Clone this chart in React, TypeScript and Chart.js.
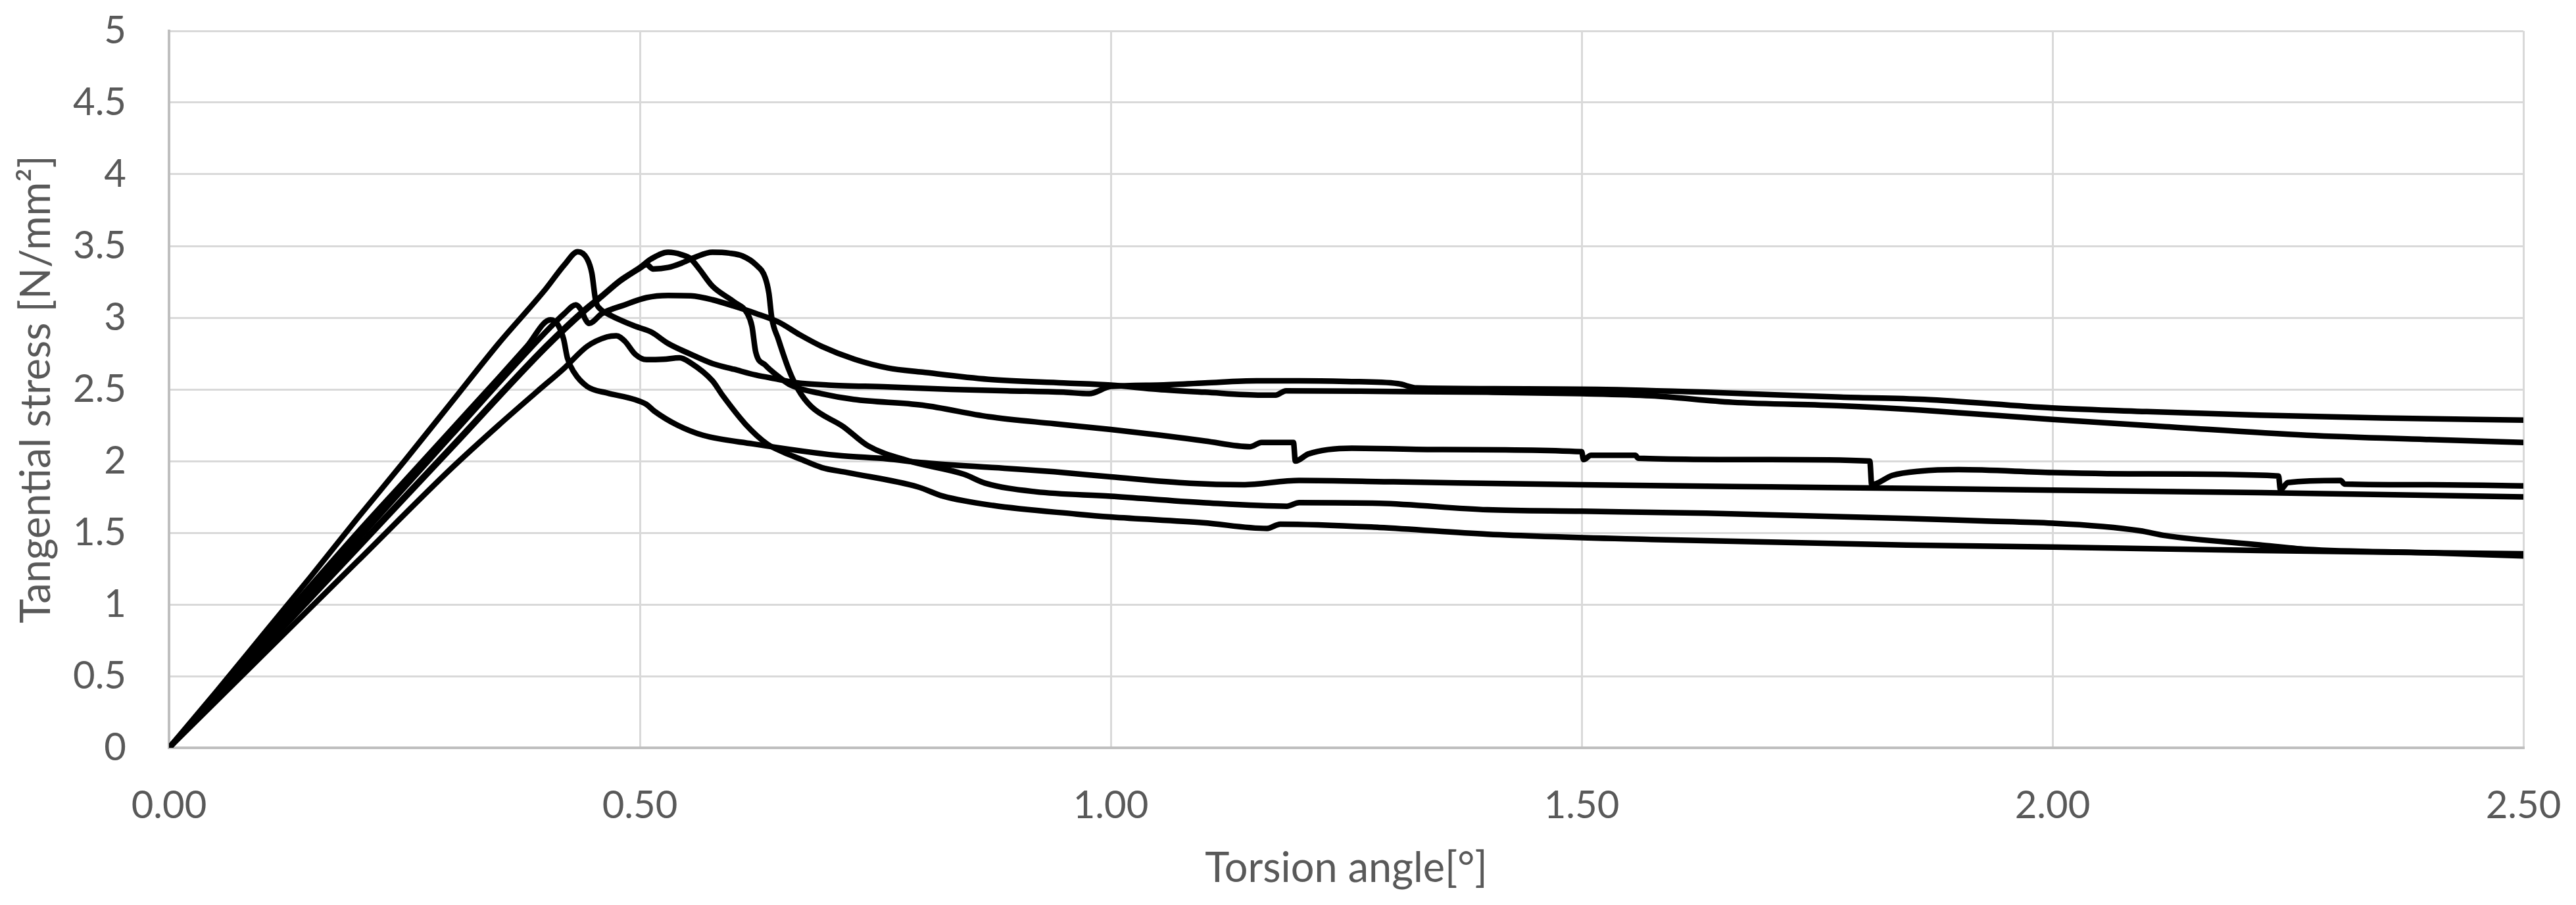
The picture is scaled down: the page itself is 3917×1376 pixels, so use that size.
import React, { useEffect, useRef } from 'react';
import { Chart, registerables } from 'chart.js';

Chart.register(...registerables);

// ---- Tick labels ----
const xTickLabels = ['0.00', '0.50', '1.00', '1.50', '2.00', '2.50'];
const yTickLabels = ['0', '0.5', '1', '1.5', '2', '2.5', '3', '3.5', '4', '4.5', '5'];

// ---- Series (torsion angle [°] -> tangential stress [N/mm²]) ----
// Specimen 1: sharp peak ~3.46 at 0.43
const s1X = [0, 0.05, 0.1, 0.15, 0.2, 0.25, 0.3, 0.35, 0.4, 0.42, 0.434, 0.444, 0.449, 0.453, 0.458, 0.465, 0.477, 0.495, 0.512, 0.53, 0.554, 0.577, 0.6, 0.623, 0.647, 0.665, 0.7, 0.763, 0.83, 0.89, 0.95, 0.977, 1.0, 1.05, 1.1, 1.155, 1.2, 1.25, 1.305, 1.325, 1.4, 1.516, 1.632, 1.775, 1.864, 2.0, 2.1, 2.22, 2.35, 2.5];
const s1Y = [0, 0.39, 0.79, 1.19, 1.6, 2.0, 2.41, 2.82, 3.2, 3.37, 3.46, 3.41, 3.31, 3.12, 3.06, 3.03, 2.99, 2.94, 2.9, 2.82, 2.745, 2.68, 2.64, 2.6, 2.57, 2.547, 2.53, 2.517, 2.5, 2.49, 2.48, 2.47, 2.52, 2.53, 2.545, 2.56, 2.56, 2.555, 2.54, 2.51, 2.505, 2.5, 2.48, 2.446, 2.43, 2.37, 2.345, 2.32, 2.3, 2.286];

// Specimen 2: small peak 3.09 at 0.43, dip, rounded top 3.15
const s2X = [0, 0.1, 0.2, 0.3, 0.4, 0.42, 0.432, 0.438, 0.442, 0.446, 0.46, 0.484, 0.507, 0.53, 0.554, 0.577, 0.6, 0.623, 0.647, 0.67, 0.693, 0.728, 0.763, 0.8, 0.87, 0.95, 1.0, 1.05, 1.1, 1.16, 1.175, 1.186, 1.3, 1.4, 1.5, 1.574, 1.66, 1.775, 1.86, 2.0, 2.12, 2.27, 2.4, 2.5];
const s2Y = [0, 0.72, 1.45, 2.18, 2.9, 3.03, 3.09, 3.05, 2.99, 2.96, 3.03, 3.09, 3.14, 3.155, 3.152, 3.125, 3.08, 3.03, 2.97, 2.88, 2.8, 2.71, 2.65, 2.62, 2.57, 2.545, 2.53, 2.5, 2.48, 2.46, 2.46, 2.49, 2.485, 2.48, 2.47, 2.455, 2.41, 2.385, 2.355, 2.29, 2.24, 2.18, 2.15, 2.13];

// Specimen 3: peak 3.46 at 0.53, stepped softening branch
const s3X = [0, 0.1, 0.2, 0.3, 0.4, 0.442, 0.46, 0.479, 0.5, 0.512, 0.53, 0.544, 0.554, 0.563, 0.577, 0.6, 0.614, 0.619, 0.623, 0.633, 0.647, 0.66, 0.693, 0.727, 0.8, 0.87, 0.94, 1.0, 1.053, 1.1, 1.148, 1.16, 1.194, 1.196, 1.21, 1.256, 1.35, 1.5, 1.502, 1.51, 1.557, 1.56, 1.7, 1.806, 1.808, 1.83, 1.86, 1.9, 2.0, 2.1, 2.24, 2.242, 2.25, 2.306, 2.31, 2.4, 2.5];
const s3Y = [0, 0.7, 1.4, 2.1, 2.8, 3.06, 3.155, 3.26, 3.35, 3.41, 3.456, 3.44, 3.41, 3.34, 3.22, 3.11, 3.03, 2.94, 2.76, 2.67, 2.59, 2.53, 2.47, 2.43, 2.39, 2.31, 2.26, 2.22, 2.18, 2.14, 2.1, 2.13, 2.13, 2.0, 2.05, 2.09, 2.08, 2.065, 2.01, 2.04, 2.04, 2.02, 2.01, 2.0, 1.835, 1.9, 1.93, 1.94, 1.92, 1.91, 1.896, 1.8, 1.85, 1.865, 1.84, 1.835, 1.827];

// Specimen 4: flat top 3.45 at 0.58-0.60, steep drop
const s4X = [0, 0.1, 0.2, 0.3, 0.4, 0.442, 0.46, 0.479, 0.5, 0.507, 0.514, 0.53, 0.544, 0.558, 0.577, 0.595, 0.609, 0.623, 0.633, 0.637, 0.64, 0.647, 0.658, 0.668, 0.682, 0.716, 0.742, 0.786, 0.844, 0.866, 0.92, 1.0, 1.098, 1.187, 1.2, 1.285, 1.4, 1.5, 1.632, 1.845, 1.925, 2.0, 2.053, 2.093, 2.12, 2.22, 2.27, 2.4, 2.5];
const s4Y = [0, 0.69, 1.39, 2.09, 2.79, 3.05, 3.15, 3.255, 3.345, 3.37, 3.34, 3.35, 3.38, 3.42, 3.456, 3.45, 3.43, 3.37, 3.28, 3.17, 3.0, 2.85, 2.64, 2.5, 2.38, 2.24, 2.107, 2.0, 1.908, 1.847, 1.786, 1.755, 1.71, 1.685, 1.71, 1.705, 1.66, 1.65, 1.636, 1.6, 1.583, 1.567, 1.544, 1.514, 1.48, 1.415, 1.384, 1.36, 1.338];

// Specimen 5: peak 2.99 at 0.405
const s5X = [0, 0.1, 0.2, 0.25, 0.3, 0.35, 0.38, 0.405, 0.413, 0.419, 0.423, 0.43, 0.444, 0.465, 0.494, 0.507, 0.515, 0.54, 0.567, 0.62, 0.709, 0.763, 0.798, 0.887, 0.94, 1.0, 1.084, 1.14, 1.2, 1.3, 1.5, 1.7, 1.845, 2.0, 2.22, 2.5];
const s5Y = [0, 0.75, 1.5, 1.86, 2.22, 2.58, 2.8, 2.985, 2.95, 2.85, 2.72, 2.62, 2.52, 2.475, 2.43, 2.395, 2.35, 2.25, 2.18, 2.12, 2.04, 2.015, 1.99, 1.95, 1.925, 1.89, 1.845, 1.835, 1.865, 1.855, 1.835, 1.82, 1.81, 1.797, 1.78, 1.75];

// Specimen 6: low hump 2.87 at 0.47
const s6X = [0, 0.1, 0.2, 0.3, 0.35, 0.39, 0.42, 0.444, 0.465, 0.475, 0.484, 0.495, 0.507, 0.525, 0.542, 0.554, 0.577, 0.588, 0.612, 0.635, 0.653, 0.67, 0.693, 0.72, 0.795, 0.822, 0.875, 0.964, 1.0, 1.098, 1.166, 1.18, 1.285, 1.4, 1.574, 1.845, 2.0, 2.22, 2.5];
const s6Y = [0, 0.65, 1.3, 1.95, 2.25, 2.48, 2.65, 2.8, 2.866, 2.874, 2.836, 2.745, 2.707, 2.71, 2.72, 2.684, 2.56, 2.456, 2.258, 2.12, 2.06, 2.015, 1.955, 1.92, 1.82, 1.755, 1.69, 1.63, 1.61, 1.57, 1.53, 1.56, 1.537, 1.49, 1.453, 1.414, 1.4, 1.376, 1.353];

const seriesX = [s1X, s2X, s3X, s4X, s5X, s6X];
const seriesY = [s1Y, s2Y, s3Y, s4Y, s5Y, s6Y];

const xTitle = 'Torsion angle[°]';
const yTitle = 'Tangential stress [N/mm²]';

const W = 3917;
const H = 1376;

export default function App() {
  const ref = useRef<HTMLCanvasElement | null>(null);

  useEffect(() => {
    document.body.style.margin = '0';
    const canvas = ref.current;
    if (!canvas) return;

    const datasets = seriesX.map((xs, i) => ({
      label: 'Specimen ' + (i + 1),
      data: xs.map((x, j) => ({ x, y: seriesY[i][j] })),
      showLine: true,
      borderColor: '#000000',
      backgroundColor: '#000000',
      borderWidth: 8.5,
      pointRadius: 0,
      pointHoverRadius: 0,
      cubicInterpolationMode: 'monotone' as const,
      borderJoinStyle: 'round' as const,
      borderCapStyle: 'round' as const,
      fill: false,
    }));

    const tickFont = { family: 'Lato', size: 58 };
    const titleFont = { family: 'Lato', size: 63 };

    const zeroPad = (scale: any) => {
      scale.paddingTop = 0;
      scale.paddingBottom = 0;
      scale.paddingLeft = 0;
      scale.paddingRight = 0;
    };

    const chart = new Chart(canvas, {
      type: 'scatter',
      data: { datasets },
      options: {
        animation: false,
        responsive: false,
        devicePixelRatio: 1,
        layout: { padding: { left: 0, right: 80, top: 47, bottom: 0 } },
        plugins: {
          legend: { display: false },
          tooltip: { enabled: false },
        },
        scales: {
          x: {
            type: 'linear',
            min: 0,
            max: 2.5,
            ticks: {
              stepSize: 0.5,
              padding: 53,
              color: '#595959',
              font: tickFont,
              maxRotation: 0,
              callback: (v: any) => xTickLabels[Math.round(Number(v) / 0.5)] ?? '',
            },
            grid: { color: '#d9d9d9', lineWidth: 3, drawTicks: false },
            border: { display: true, color: '#bfbfbf', width: 4 },
            title: {
              display: true,
              text: xTitle,
              color: '#595959',
              font: titleFont,
              padding: { top: 0, bottom: 18 },
            },
            afterFit: (scale: any) => {
              scale.height = 239;
              zeroPad(scale);
            },
          },
          y: {
            type: 'linear',
            min: 0,
            max: 5,
            ticks: {
              stepSize: 0.5,
              padding: 65,
              color: '#595959',
              font: tickFont,
              callback: (v: any) => yTickLabels[Math.round(Number(v) / 0.5)] ?? '',
            },
            grid: { color: '#d9d9d9', lineWidth: 3, drawTicks: false },
            border: { display: true, color: '#bfbfbf', width: 4 },
            title: {
              display: true,
              text: yTitle,
              color: '#595959',
              font: titleFont,
              padding: { top: 18, bottom: 0 },
            },
            afterFit: (scale: any) => {
              scale.width = 257;
              zeroPad(scale);
            },
          },
        },
      },
    } as any);

    return () => {
      chart.destroy();
    };
  }, []);

  return (
    <div style={{ position: 'absolute', left: 0, top: 0, width: W, height: H, background: '#ffffff' }}>
      <canvas ref={ref} width={W} height={H} style={{ width: W, height: H, display: 'block' }} />
    </div>
  );
}
